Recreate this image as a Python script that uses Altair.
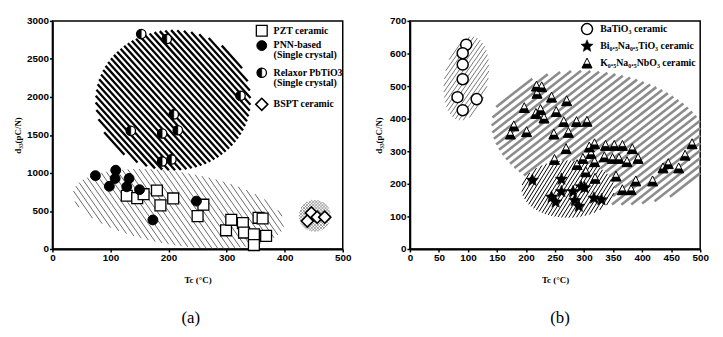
import math
import pandas as pd
import altair as alt

# ---------------- Panel (a) data ----------------
pzt_tc = [128, 146, 157, 180, 186, 208, 250, 260, 299, 308, 328, 330, 347, 347, 355, 362, 368]
pzt_d33 = [700, 669, 721, 770, 574, 665, 432, 583, 246, 384, 341, 216, 194, 52, 410, 401, 173]
pnn_tc = [74, 109, 108, 98, 132, 128, 150, 173, 248]
pnn_d33 = [965, 1036, 928, 825, 928, 818, 780, 382, 630]
relaxor_tc = [153, 197, 324, 209, 135, 189, 216, 189, 205]
relaxor_d33 = [2827, 2762, 2015, 1770, 1554, 1519, 1562, 1152, 1178]
bspt_tc = [446, 439, 456, 469]
bspt_d33 = [475, 367, 419, 419]

# ---------------- Panel (b) data ----------------
bto_tc = [97, 91, 91, 91, 82, 91, 115]
bto_d33 = [627, 601, 566, 521, 466, 426, 460]
bnt_tc = [211, 261, 261, 244, 251, 281, 284, 291, 295, 301, 317, 330]
bnt_d33 = [211, 214, 176, 159, 144, 176, 149, 131, 191, 188, 156, 151]
knn_tc = [218, 227, 219, 244, 270, 197, 225, 217, 231, 252, 265, 287, 305, 179, 173, 201,
          248, 273, 269, 249, 288, 309, 318, 312, 337, 352, 366, 383, 335, 349, 360, 374,
          393, 318, 303, 319, 298, 355, 366, 381, 389, 418, 436, 445, 463, 474, 486]
knn_d33 = [500, 498, 478, 466, 455, 434, 428, 416, 402, 422, 391, 391, 392, 378, 353, 360,
           353, 358, 308, 275, 259, 313, 323, 293, 318, 318, 318, 308, 283, 278, 278, 268,
           278, 268, 237, 217, 278, 224, 182, 182, 209, 209, 249, 262, 249, 288, 323]

# tick values / labels
x_ticks_a = [0, 100, 200, 300, 400, 500]
y_ticks_a = [0, 500, 1000, 1500, 2000, 2500, 3000]
x_ticks_b = [0, 50, 100, 150, 200, 250, 300, 350, 400, 450, 500]
y_ticks_b = [0, 100, 200, 300, 400, 500, 600, 700]
legend_a = ["PZT ceramic", "PNN-based", "(Single crystal)", "Relaxor PbTiO3", "(Single crystal)", "BSPT ceramic"]
legend_b = ["BaTiO₃ ceramic", "Bi₀.₅Na₀.₅TiO₃ ceramic", "K₀.₅Na₀.₅NbO₃ ceramic"]
panel_labels = ["(a)", "(b)"]

W, H = 294, 231
XMAX = 500

HALF_LEFT = "M 0 -1 C -0.552 -1 -1 -0.552 -1 0 C -1 0.552 -0.552 1 0 1 Z"
TRI = "M 0 -1 L 1 1 L -1 1 Z"
TRI_BOTTOM = "M -0.6 0.2 L 0.6 0.2 L 1 1 L -1 1 Z"
STAR = "M " + " L ".join(
    "%.3f %.3f" % ((1.0 if k % 2 == 0 else 0.45) * math.cos(math.radians(-90 + 36 * k)),
                   (1.0 if k % 2 == 0 else 0.45) * math.sin(math.radians(-90 + 36 * k)))
    for k in range(10)) + " Z"


def ellipse_interval(p0, d, e):
    cx, cy, a, b, phi = e
    c, s = math.cos(-phi), math.sin(-phi)
    wx0, wy0 = p0[0] - cx, p0[1] - cy
    wx, wy = c * wx0 - s * wy0, s * wx0 + c * wy0
    ex, ey = c * d[0] - s * d[1], s * d[0] + c * d[1]
    A = ex * ex / a / a + ey * ey / b / b
    B = 2 * (wx * ex / a / a + wy * ey / b / b)
    C = wx * wx / a / a + wy * wy / b / b - 1
    disc = B * B - 4 * A * C
    if disc <= 0:
        return None
    r = math.sqrt(disc)
    return ((-B - r) / (2 * A), (-B + r) / (2 * A))


def hatch(region, theta_deg, spacing, ymax, exclude=()):
    """Hatch lines (pixel geometry of the plot area) clipped to an ellipse, returned in data units."""
    cx, cy, a, b, phi_deg = region
    e = (cx, cy, a, b, math.radians(phi_deg))
    ex_list = [(r[0], r[1], r[2], r[3], math.radians(r[4])) for r in exclude]
    th = math.radians(theta_deg)
    d = (math.cos(th), math.sin(th))
    n = (-math.sin(th), math.cos(th))
    R = max(a, b)
    k = int(R / spacing) + 1
    rows = []
    for i in range(-k, k + 1):
        u = i * spacing
        p0 = (cx + u * n[0], cy + u * n[1])
        iv = ellipse_interval(p0, d, e)
        if iv is None:
            continue
        tmin, tmax = iv
        if abs(d[0]) > 1e-9:
            ta, tb = (0 - p0[0]) / d[0], (W - p0[0]) / d[0]
            tmin, tmax = max(tmin, min(ta, tb)), min(tmax, max(ta, tb))
        if tmax <= tmin:
            continue
        pieces = [(tmin, tmax)]
        for exl in ex_list:
            jv = ellipse_interval(p0, d, exl)
            if jv is None:
                continue
            new = []
            for (t1, t2) in pieces:
                if jv[1] <= t1 or jv[0] >= t2:
                    new.append((t1, t2))
                    continue
                if jv[0] > t1:
                    new.append((t1, jv[0]))
                if jv[1] < t2:
                    new.append((jv[1], t2))
            pieces = new
        for (t1, t2) in pieces:
            x1p, y1p = p0[0] + t1 * d[0], p0[1] + t1 * d[1]
            x2p, y2p = p0[0] + t2 * d[0], p0[1] + t2 * d[1]
            rows.append({"hx": round(x1p / W * XMAX, 3), "hy": round((H - y1p) / H * ymax, 3),
                         "hx2": round(x2p / W * XMAX, 3), "hy2": round((H - y2p) / H * ymax, 3)})
    return pd.DataFrame(rows)


def make_axes(xvals, yvals, ytitle_pad):
    common = dict(labelFont="Liberation Sans", labelFontWeight="bold", labelFontSize=10,
                  labelColor="black", tickColor="black", tickWidth=1.5, tickSize=3,
                  domainColor="black", domainWidth=1.8, grid=False, labelFlush=False,
                  titleFont="Liberation Serif", titleFontWeight="bold", format="d",
                  titleFontSize=9, titleColor="black")
    xa = alt.Axis(values=xvals, title="Tc (°C)", labelPadding=1, titlePadding=13, **common)
    ya = alt.Axis(values=yvals, title="d₃₃(pC/N)", labelPadding=1, titlePadding=ytitle_pad, **common)
    return xa, ya


def panel(ymax, xvals, yvals, ytitle_pad, hatches, point_layers, legend_syms, legend_texts):
    xs = alt.Scale(domain=[0, XMAX], nice=False, zero=False)
    ys = alt.Scale(domain=[0, ymax], nice=False, zero=False)
    xa, ya = make_axes(xvals, yvals, ytitle_pad)
    X = lambda f: alt.X(f, scale=xs, axis=xa)
    Y = lambda f: alt.Y(f, scale=ys, axis=ya)
    layers = []
    for df, color, width in hatches:
        layers.append(alt.Chart(df).mark_rule(color=color, strokeWidth=width).encode(
            x=X("hx:Q"), y=Y("hy:Q"), x2=alt.X2("hx2"), y2=alt.Y2("hy2")))
    for tc, d33, marks in point_layers:
        df = pd.DataFrame({"tc": tc, "d33": d33})
        for m in marks:
            layers.append(alt.Chart(df).mark_point(opacity=1, **m).encode(
                x=X("tc:Q"), y=Y("d33:Q")))
    for px, py, marks in legend_syms:
        df = pd.DataFrame({"lx": [px / W * XMAX], "ly": [(H - py) / H * ymax]})
        for m in marks:
            layers.append(alt.Chart(df).mark_point(opacity=1, **m).encode(
                x=X("lx:Q"), y=Y("ly:Q")))
    for px, py, txt, size, weight, align in legend_texts:
        df = pd.DataFrame({"lx": [px / W * XMAX], "ly": [(H - py) / H * ymax], "t": [txt]})
        layers.append(alt.Chart(df).mark_text(
            align=align, baseline="middle", font="Liberation Serif", fontWeight=weight,
            fontSize=size, color="black").encode(x=X("lx:Q"), y=Y("ly:Q"), text="t:N"))
    return alt.layer(*layers).properties(width=W, height=H)


# ---- marker styles ----
SQ = [dict(shape="square", size=121, filled=True, fill="white", stroke="black", strokeWidth=1.3)]
FC = [dict(shape="circle", size=100, filled=True, fill="black", stroke="black", strokeWidth=1)]
HC = [dict(shape="circle", size=90, filled=True, fill="white", stroke="black", strokeWidth=1.3),
      dict(shape=HALF_LEFT, size=90, filled=True, fill="black", stroke="black", strokeWidth=0.5)]
DM = [dict(shape="diamond", size=150, filled=True, fill="white", stroke="black", strokeWidth=1.6)]
OC = [dict(shape="circle", size=125, filled=True, fill="white", stroke="black", strokeWidth=1.5)]
ST = [dict(shape=STAR, size=170, filled=True, fill="black", stroke="black", strokeWidth=0.5)]
TR = [dict(shape=TRI, size=100, filled=True, fill="white", stroke="black", strokeWidth=1),
      dict(shape=TRI_BOTTOM, size=100, filled=True, fill="black", stroke="black", strokeWidth=0.5)]

# ---- panel (a) hatched regions (pixel geometry: cx, cy, a, b, rotation) ----
big_a = (122.2, 80.3, 78.5, 71.0, 0)
low_a = (127.7, 190.3, 108.0, 37.0, 9)
small_a = (265.7, 197.3, 16.0, 16.0, 0)
hatches_a = [
    (hatch(low_a, 55, 4.8, 3000, exclude=[big_a]), "#6a6a6a", 1.0),
    (hatch(big_a, 48, 4.6, 3000), "black", 2.3),
    (hatch(small_a, 45, 2.2, 3000), "#8a8a8a", 0.8),
    (hatch(small_a, -45, 2.2, 3000), "#8a8a8a", 0.8),
]
syms_a = [(212, 10, SQ), (212, 25, FC), (212, 52.5, HC), (212, 84.5, DM)]
texts_a = [(224, ty, txt, 10, "bold", "left")
           for ty, txt in zip([10, 24.5, 34.5, 52.5, 62.5, 84.5], legend_a)]
texts_a.append((140, 301, panel_labels[0], 17, "normal", "center"))

chart_a = panel(3000, x_ticks_a, y_ticks_a, 4, hatches_a,
                [(pzt_tc, pzt_d33, SQ), (pnn_tc, pnn_d33, FC), (relaxor_tc, relaxor_d33, HC),
                 (bspt_tc, bspt_d33, DM)],
                syms_a, texts_a)

# ---- panel (b) hatched regions ----
bto_b = (57.2, 58.3, 43.0, 22.0, -80)
big_b = (193.7, 118.3, 112.0, 66.0, 10)
small_b = (160.2, 170.3, 47.0, 29.0, 0)
hatches_b = [
    (hatch(bto_b, -55, 3.6, 700), "#777777", 1.0),
    (hatch(big_b, -38, 6.0, 700, exclude=[small_b]), "#8c8c8c", 2.6),
    (hatch(small_b, -58, 3.2, 700), "black", 1.0),
]
syms_b = [(179.4, 8.3, OC), (179.4, 25.6, ST), (179.4, 42.6, TR)]
texts_b = [(192.7, ty, txt, 10, "bold", "left") for ty, txt in zip([8.3, 25.6, 42.6], legend_b)]
texts_b.append((152, 301, panel_labels[1], 17, "normal", "center"))

chart_b = panel(700, x_ticks_b, y_ticks_b, 6, hatches_b,
                [(bto_tc, bto_d33, OC), (knn_tc, knn_d33, TR), (bnt_tc, bnt_d33, ST)],
                syms_b, texts_b)

chart = alt.hconcat(chart_a, chart_b, spacing=21).configure_view(
    stroke="black", strokeWidth=1.5
)

chart.save("out.html", embed_options={"renderer": "svg", "actions": False})
